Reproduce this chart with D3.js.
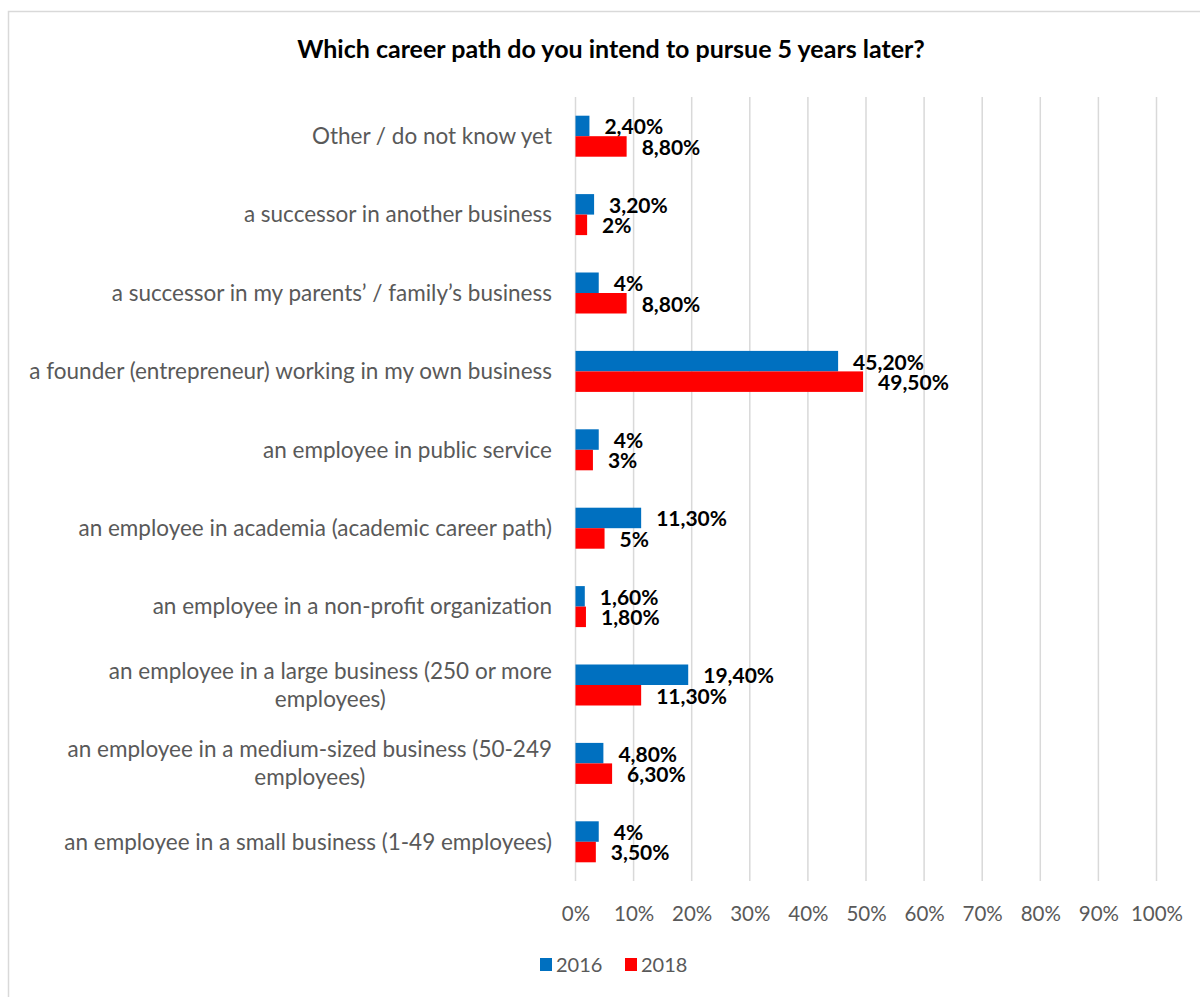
<!DOCTYPE html>
<html>
<head>
<meta charset="utf-8">
<script src="https://cdn.jsdelivr.net/npm/d3@7/dist/d3.min.js"></script>
<style>
  html, body { margin: 0; padding: 0; background: #fff; }
  svg { display: block; }
</style>
</head>
<body>
<svg id="chart" width="1200" height="997"></svg>
<script>
// Survey answers, listed top to bottom as drawn
const categories = [
  "Other / do not know yet",
  "a successor in another business",
  "a successor in my parents\u2019 / family\u2019s business",
  "a founder (entrepreneur) working in my own business",
  "an employee in public service",
  "an employee in academia (academic career path)",
  "an employee in a non-profit organization",
  "an employee in a large business (250 or more employees)",
  "an employee in a medium-sized business (50-249 employees)",
  "an employee in a small business (1-49 employees)"
];
const values2016 = [2.4, 3.2, 4, 45.2, 4, 11.3, 1.6, 19.4, 4.8, 4];
const values2018 = [8.8, 2, 8.8, 49.5, 3, 5, 1.8, 11.3, 6.3, 3.5];
const seriesNames = ["2016", "2018"];
const xTicks = [0, 10, 20, 30, 40, 50, 60, 70, 80, 90, 100];

const colors = ["#0070C0", "#FF0000"];
const FONT = "Lato, 'Liberation Sans', sans-serif";
const svg = d3.select("#chart");

// chart frame
svg.append("rect")
  .attr("x", 8.5).attr("y", 11.5)
  .attr("width", 1300).attr("height", 1100)
  .attr("fill", "#fff").attr("stroke", "#D9D9D9").attr("stroke-width", 1.5);

const plot = { left: 575.5, right: 1156.5, top: 97, bottom: 881 };

const x = d3.scaleLinear().domain([0, 100]).range([plot.left, plot.right]);
const y = d3.scaleBand().domain(categories).range([plot.top, plot.bottom]).padding(0);
const barH = 20.5;

// title
svg.append("text")
  .attr("x", 611).attr("y", 58)
  .attr("text-anchor", "middle")
  .attr("font-family", FONT).attr("font-weight", "bold")
  .attr("font-size", 25).attr("fill", "#000")
  .text("Which career path do you intend to pursue 5 years later?");

// vertical gridlines
svg.append("g").selectAll("line").data(xTicks).join("line")
  .attr("x1", d => x(d)).attr("x2", d => x(d))
  .attr("y1", plot.top).attr("y2", plot.bottom)
  .attr("stroke", "#D9D9D9").attr("stroke-width", 1.5);

// x axis labels
const xAxis = d3.axisBottom(x).tickValues(xTicks).tickSize(0).tickPadding(0)
  .tickFormat(d => d + "%");
const gx = svg.append("g").attr("transform", `translate(0,${plot.bottom})`).call(xAxis);
gx.select(".domain").remove();
gx.selectAll("text")
  .attr("y", 33).attr("dy", "0.35em")
  .attr("font-family", FONT).attr("font-size", 20.5).attr("fill", "#595959");

// bars with value labels
const series = [values2016, values2018];
series.forEach((vals, si) => {
  const g = svg.append("g");
  g.selectAll("rect").data(vals).join("rect")
    .attr("x", x(0))
    .attr("y", (d, i) => y(categories[i]) + y.bandwidth() / 2 - barH + si * barH)
    .attr("width", d => x(d) - x(0))
    .attr("height", barH)
    .attr("fill", colors[si]);
  g.selectAll("text").data(vals).join("text")
    .attr("x", d => x(d) + 15)
    .attr("y", (d, i) => y(categories[i]) + y.bandwidth() / 2 - barH / 2 + si * barH + 1)
    .attr("dy", "0.35em")
    .attr("font-family", FONT).attr("font-weight", "bold")
    .attr("font-size", 21).attr("fill", "#000")
    .text(d => (Number.isInteger(d) ? d : d.toFixed(2).replace(".", ",")) + "%");
});

// category labels, wrapped and centred within a right-aligned block
const labelRight = 552;
const maxW = 540;
const lineH = 28;
const gy = svg.append("g");
categories.forEach(cat => {
  const t = gy.append("text")
    .attr("font-family", FONT).attr("font-size", 22.5).attr("fill", "#595959");
  const words = cat.split(" ");
  const lines = [];
  let cur = [];
  const probe = t.append("tspan");
  words.forEach(w => {
    const trial = cur.concat([w]).join(" ");
    probe.text(trial);
    if (probe.node().getComputedTextLength() > maxW && cur.length) {
      lines.push(cur.join(" "));
      cur = [w];
    } else {
      cur.push(w);
    }
  });
  lines.push(cur.join(" "));
  probe.remove();
  const widths = lines.map(l => { const p = t.append("tspan").text(l); const w = p.node().getComputedTextLength(); p.remove(); return w; });
  const blockW = d3.max(widths);
  const cx = labelRight - blockW / 2;
  const cy = y(cat) + y.bandwidth() / 2;
  lines.forEach((l, i) => {
    t.append("tspan")
      .attr("x", cx).attr("text-anchor", "middle")
      .attr("y", cy + (i - (lines.length - 1) / 2) * lineH)
      .attr("dy", "0.35em")
      .text(l);
  });
});

// legend
const legend = svg.append("g");
const legendItems = [{ x: 540 }, { x: 625 }];
seriesNames.forEach((name, i) => {
  legend.append("rect")
    .attr("x", legendItems[i].x).attr("y", 958)
    .attr("width", 12).attr("height", 13)
    .attr("fill", colors[i]);
  legend.append("text")
    .attr("x", legendItems[i].x + 16).attr("y", 965)
    .attr("dy", "0.35em")
    .attr("font-family", FONT).attr("font-size", 20).attr("fill", "#595959")
    .text(name);
});
</script>
</body>
</html>
